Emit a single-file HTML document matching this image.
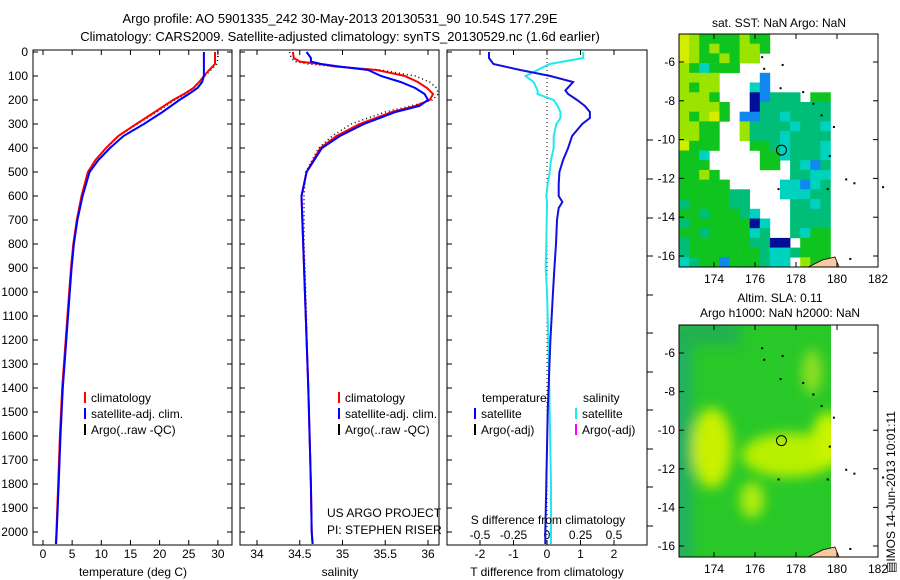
<!DOCTYPE html>
<html><head><meta charset="utf-8"><style>
body{margin:0;background:#fff}
svg{display:block;font-family:"Liberation Sans",sans-serif}
text{font-size:12px;fill:#000}
</style></head><body>
<svg id="s" width="900" height="580" viewBox="0 0 900 580">
<defs><filter id="bl" x="-50%" y="-50%" width="200%" height="200%"><feGaussianBlur stdDeviation="6"/></filter>
<clipPath id="c2"><rect x="679" y="325" width="152" height="232"/></clipPath></defs>
<text x="340" y="23" text-anchor="middle" style="font-size:13px">Argo profile: AO 5901335_242 30-May-2013 20130531_90 10.54S 177.29E</text>
<text x="340" y="41" text-anchor="middle" style="font-size:13px">Climatology: CARS2009. Satellite-adjusted climatology: synTS_20130529.nc (1.6d earlier)</text>
</svg>
<script>
const depths=[0,25,50,75,100,125,150,175,200,250,300,350,400,450,500,600,700,800,900,1000,1200,1400,1600,1800,2000,2050];
const tClim=[29.5,29.5,29.5,28.5,27.6,26.8,25.8,24.2,22.3,19.2,16.0,12.9,10.8,9.0,7.7,6.6,5.8,5.2,4.8,4.5,3.9,3.3,2.9,2.6,2.3,2.2];
const tSat=[27.6,27.6,27.6,27.6,27.6,27.3,26.5,25.0,23.4,20.5,17.3,13.8,11.5,9.5,8.0,6.8,5.9,5.3,4.9,4.6,4.0,3.4,3.0,2.7,2.35,2.25];
const tArgo=[30.0,30.0,29.8,28.8,27.8,26.9,25.9,24.4,22.6,19.5,16.2,13.0,10.9,9.1,7.8,6.7,5.9,5.2,4.8,4.5,3.9,3.3,2.9,2.6,2.3,2.2];
const sDepths=[0,25,40,50,60,75,100,125,150,175,200,225,250,300,350,400,500,600,800,1000,1400,1800,2000,2050];
const sClim=[34.42,34.43,34.5,34.74,34.9,35.4,35.73,35.88,35.99,36.06,36.02,35.85,35.58,35.2,34.93,34.74,34.58,34.52,34.54,34.56,34.6,34.63,34.64,34.65];
const sSat=[34.58,34.63,34.63,34.75,34.95,35.3,35.45,35.68,35.85,35.96,36.0,35.9,35.62,35.25,34.97,34.76,34.58,34.52,34.54,34.56,34.6,34.63,34.64,34.65];
const sArgo=[34.38,34.4,34.45,34.6,34.9,35.45,35.85,36.02,36.1,36.12,36.05,35.8,35.5,35.1,34.88,34.72,34.57,34.55,34.55,34.57,34.6,34.63,34.64,34.65];
const dDepths=[0,25,50,75,100,125,160,175,200,225,250,275,300,350,400,450,500,550,600,625,650,700,800,900,1000,1200,1500,1800,2000,2050];
const dT=[-1.73,-1.73,-1.6,-0.8,0.1,0.78,0.55,0.63,0.9,1.13,1.28,1.28,1.05,0.75,0.63,0.48,0.37,0.35,0.35,0.46,0.35,0.3,0.27,0.22,0.18,0.1,0.02,-0.02,-0.05,-0.05];
const dS=[0.27,0.27,0.02,-0.07,-0.16,-0.1,-0.07,-0.07,0.05,0.08,0.1,0.1,0.07,0.05,0.05,0.03,0.02,0.005,-0.005,0.0,0.0,-0.002,-0.005,-0.01,0.0,0.01,0.02,0.03,0.03,0.03];
const depthTicks=[0,100,200,300,400,500,600,700,800,900,1000,1100,1200,1300,1400,1500,1600,1700,1800,1900,2000];
const tTicks=[0,5,10,15,20,25,30];
const sTicks=[34,34.5,35,35.5,36];
const dTTicks=[-2,-1,0,1,2];
const dSTicks=[-0.5,-0.25,0,0.25,0.5];
const dSLabels=["-0.5","-0.25","0","0.25","0.5"];
const sstRows=["YLGGGGLGG......","YLGLGGLLG......","YLGGLGLL.......","LGCGGG.........","LLLL....B......","LGLL...CB......","LLLG...NBTTT.GG","LLLLG..NTTTTTTT","LGLYG.BBTTCTTTT","LLGG..LTTTTCTTC","LLGG..LTTTCTTTT","YGGG...GGTCTTTC","GGC.....GGCTTTC","GGG.....GG.TCBT","GGLG.......TTCC","GGGGG.....CCBCT","GGGGGTT...CCCTT","TGGGGTT....TTCT","GGTGGGTC...TTTT","TGGGGGGNC..TTTT","GGTGGGGCT..TCGG","TGGGGGGTTNN.GGG","TGGGGGGGTCCTGGG","CTGGBGGGTCC.LGG"];
const sstColors={Y:"#d4ec00",L:"#9ae400",G:"#10c420",T:"#00be78",C:"#00d2c0",B:"#1088f0",N:"#000e98"};
const lonTicks=[174,176,178,180,182];
const latTicks=[-6,-8,-10,-12,-14,-16];
const argoLon=177.29, argoLat=-10.54;

const S=document.getElementById('s');const NS='http://www.w3.org/2000/svg';
function mk(t,a,p){const e=document.createElementNS(NS,t);for(const k in a)e.setAttribute(k,a[k]);(p||S).appendChild(e);return e;}
const Y0=52,KY=0.24;
function yD(d){return Y0+d*KY;}
const P1={l:33,r:232,t:50,b:545},P2={l:240,r:439,t:50,b:545},P3={l:447,r:647,t:50,b:545};
function xT(v){return 43+v*5.83;}
function xS(v){return 257+(v-34)*85.5;}
function xDT(v){return 547+v*33.5;}
function xDS(v){return 547+v*134;}
function clipFor(P,id){const c=mk('clipPath',{id:id},S.querySelector('defs'));mk('rect',{x:P.l,y:P.t,width:P.r-P.l,height:P.b-P.t},c);}
clipFor(P1,'p1');clipFor(P2,'p2');clipFor(P3,'p3');
function line(xs,ds,fx,col,w,name,clip,dash){
  const pts=xs.map((v,i)=>fx(v).toFixed(1)+','+yD(ds[i]).toFixed(1)).join(' ');
  const e=mk('polyline',{points:pts,fill:'none',stroke:col,'stroke-width':w,'clip-path':'url(#'+clip+')'});
  if(dash)e.setAttribute('stroke-dasharray',dash);
  
  
}
function frame(P,name){const e=mk('rect',{x:P.l,y:P.t,width:P.r-P.l,height:P.b-P.t,fill:'none',stroke:'#000','stroke-width':1});
  
  }
function txt(x,y,s,anc,name,size){const e=mk('text',{x:x,y:y,'text-anchor':anc||'start'});if(size)e.style.fontSize=size+'px';e.textContent=s;
  
  return e;}
function xticks(P,ticks,fx,labels,name,top){
  ticks.forEach((v,i)=>{const x=fx(v);mk('line',{x1:x,x2:x,y1:P.b,y2:P.b-5,stroke:'#000'});if(top)mk('line',{x1:x,x2:x,y1:P.t,y2:P.t+5,stroke:'#000'});
    txt(x,558,labels?labels[i]:String(v),'middle',name);});
}
depthTicks.forEach(d=>{const y=yD(d);mk('line',{x1:P1.l,x2:P1.l+5,y1:y,y2:y,stroke:'#000'});txt(28,y+4,String(d),'end','depth-tick-label');
  mk('line',{x1:P2.l,x2:P2.l+5,y1:y,y2:y,stroke:'#000'});mk('line',{x1:P3.l,x2:P3.l+5,y1:y,y2:y,stroke:'#000'});
  mk('line',{x1:P1.r,x2:P1.r-5,y1:y,y2:y,stroke:'#000'});});
xticks(P1,tTicks,xT,null,'temperature-tick-label',true);
xticks(P2,sTicks,xS,null,'salinity-tick-label',true);
xticks(P3,dTTicks,xDT,null,'t-diff-tick-label',true);
dSTicks.forEach((v,i)=>txt(xDS(v),539,dSLabels[i],'middle','s-diff-tick-label'));
[140,179,218,256,295,333,372,410,449,487,526].forEach(y=>mk('line',{x1:P3.r,x2:P3.r+6,y1:y,y2:y,stroke:'#000'}));
line(tArgo,depths,xT,'#000',1.5,'argo-temperature','p1','1,3');
line(tClim,depths,xT,'#f00',2,'climatology-temperature','p1');
line(tSat,depths,xT,'#00f',2,'satellite-temperature','p1');
line(sArgo,sDepths,xS,'#000',1.5,'argo-salinity','p2','1,3');
line(sClim,sDepths,xS,'#f00',2,'climatology-salinity','p2');
line(sSat,sDepths,xS,'#00f',2,'satellite-salinity','p2');
mk('line',{x1:547,x2:547,y1:P3.t,y2:P3.b,stroke:'#000','stroke-dasharray':'1,3'});
line(dS,dDepths,xDS,'#20e8f0',2,'salinity-difference','p3');
line(dT,dDepths,xDT,'#1010e0',2,'temperature-difference','p3');
frame(P1,'temperature-panel');frame(P2,'salinity-panel');frame(P3,'difference-panel');
txt(133,576,'temperature (deg C)','middle','temperature-axis-title');
txt(340,576,'salinity','middle','salinity-axis-title');
txt(547,576,'T difference from climatology','middle','t-diff-axis-title');
txt(548,524,'S difference from climatology','middle','s-diff-axis-title');
function leg(x,y,col,label){mk('rect',{x:x,y:y-10,width:2,height:11,fill:col});txt(x+7,y,label,'start','legend-entry');}
leg(84,402,'#f00','climatology');leg(84,418,'#00f','satellite-adj. clim.');leg(84,434,'#000','Argo(..raw -QC)');
leg(338,402,'#f00','climatology');leg(338,418,'#00f','satellite-adj. clim.');leg(338,434,'#000','Argo(..raw -QC)');
txt(482,402,'temperature','start','legend-header');txt(583,402,'salinity','start','legend-header');
leg(474,418,'#00f','satellite');leg(474,434,'#000','Argo(-adj)');
leg(575,418,'#20e8f0','satellite');leg(575,434,'#f0f','Argo(-adj)');
txt(327,517,'US ARGO PROJECT','start','project-credit');txt(327,534,'PI: STEPHEN RISER','start','pi-credit');
const M1={l:679,r:878,t:34,b:267,lat0:-6,y0:62,y16:256},M2={l:679,r:878,t:325,b:557,lat0:-6,y0:353,y16:546};
function mx(lon){return 714+(lon-174)*20.5;}
function my(M,lat){return M.y0+(lat-M.lat0)*(M.y16-M.y0)/-10;}
const cw=10.1,ch=233/24;
sstRows.forEach((row,r)=>{for(let c=0;c<row.length;c++){const k=row[c];if(k==='.')continue;
  const e=mk('rect',{x:(679+c*cw).toFixed(1),y:(34+r*ch).toFixed(1),width:cw+0.3,height:ch+0.3,fill:sstColors[k]});
  
  }});
const g=mk('g',{'clip-path':'url(#c2)'});
mk('rect',{x:679,y:325,width:152,height:232,fill:'#28c828'},g);
const bl=mk('g',{filter:'url(#bl)'},g);
mk('rect',{x:670,y:320,width:22,height:240,fill:'#20b060'},bl);
mk('rect',{x:670,y:320,width:70,height:25,fill:'#20b050'},bl);
mk('ellipse',{cx:712,cy:448,rx:20,ry:40,fill:'#c8f000'},bl);
mk('ellipse',{cx:790,cy:455,rx:48,ry:22,fill:'#b8f000'},bl);
mk('ellipse',{cx:828,cy:440,rx:16,ry:28,fill:'#c8f400'},bl);
mk('ellipse',{cx:752,cy:500,rx:12,ry:18,fill:'#b0ec10'},bl);
mk('ellipse',{cx:812,cy:372,rx:10,ry:22,fill:'#90e020'},bl);
[[M1,'sst'],[M2,'sla']].forEach(([M,n])=>{
  mk('path',{d:`M${mx(178.6)} ${M.b} L${mx(179.3)} ${my(M,-16.2)} L${mx(179.9)} ${my(M,-16.05)} L${mx(180.1)} ${M.b} Z`,fill:'#f8c8a0',stroke:'#000','stroke-width':0.8});
  [[176.3,-5.7],[176.4,-6.3],[177.3,-6.1],[177.2,-7.3],[178.3,-7.5],[178.8,-8.1],[179.2,-8.7],[179.8,-9.3],[180.4,-12.0],[180.8,-12.2],[182.2,-12.4],[177.1,-12.5],[179.5,-12.5],[179.6,-10.8],[180.6,-16.1]].forEach(p=>mk('rect',{x:mx(p[0]),y:my(M,p[1]),width:2,height:2,fill:'#000'}));
  const c=mk('circle',{cx:mx(argoLon),cy:my(M,argoLat),r:5,fill:'none',stroke:'#000','stroke-width':1});
  
  
  lonTicks.forEach(l=>{const x=mx(l);mk('line',{x1:x,x2:x,y1:M.b,y2:M.b-5,stroke:'#000'});mk('line',{x1:x,x2:x,y1:M.t,y2:M.t+5,stroke:'#000'});txt(x,M.b+16,String(l),'middle',n+'-lon-tick-label');});
  latTicks.forEach(l=>{const y=my(M,l);mk('line',{x1:M.l,x2:M.l+5,y1:y,y2:y,stroke:'#000'});mk('line',{x1:M.r,x2:M.r-5,y1:y,y2:y,stroke:'#000'});txt(675,y+4,String(l),'end',n+'-lat-tick-label');});
  frame(M,n+'-map');
});
txt(779,27,'sat. SST: NaN Argo: NaN','middle','sst-map-title');
txt(780,302,'Altim. SLA: 0.11','middle','sla-map-title');
txt(780,317,'Argo h1000: NaN h2000: NaN','middle','sla-map-subtitle');
const im=txt(0,0,'\u25A4IMOS 14-Jun-2013 10:01:11','start','imos-timestamp');
im.setAttribute('transform','translate(895,573) rotate(-90)');
</script>
</body></html>
